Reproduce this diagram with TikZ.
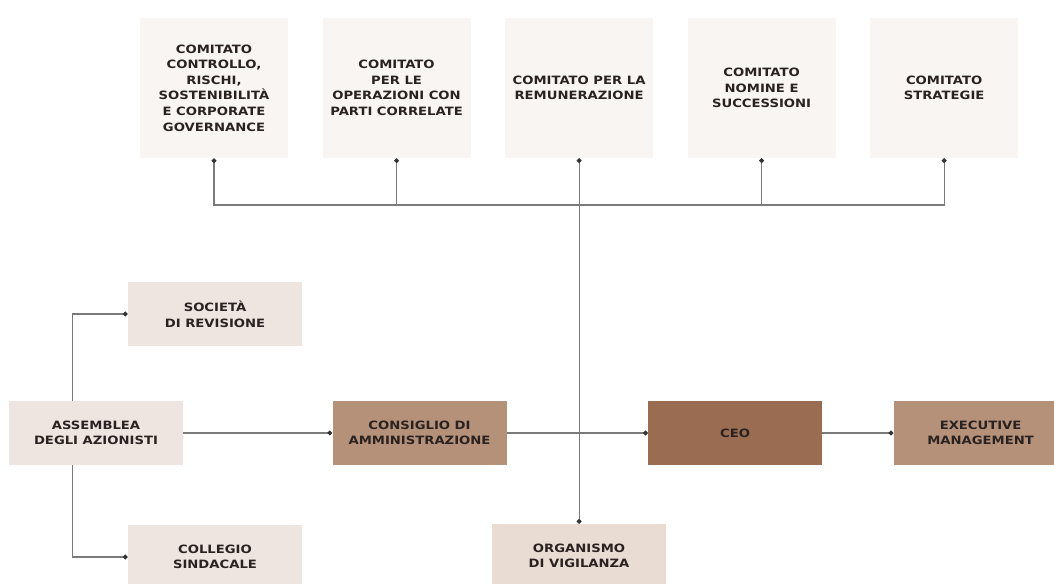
\documentclass[tikz,border=0pt]{standalone}
\usepackage{fontspec}
\setmainfont{DejaVu Sans}[FakeStretch=1.15]
\usetikzlibrary{positioning,arrows.meta}

\definecolor{topfill}{HTML}{F8F5F2}
\definecolor{palefill}{HTML}{EEE5E1}
\definecolor{odvfill}{HTML}{E9DCD3}
\definecolor{tanfill}{HTML}{B5917A}
\definecolor{ceofill}{HTML}{9A6D52}
\definecolor{linegray}{HTML}{7A7A7A}
\definecolor{inkcol}{HTML}{2A2220}

\tikzset{
  boxtext/.style={align=center,inner sep=0pt,text=inkcol,
    font=\fontsize{8.6}{11.7}\selectfont\bfseries},
  comitato/.style={boxtext,fill=topfill,minimum width=111pt,minimum height=105pt},
  organo/.style={boxtext,minimum width=130.5pt,minimum height=48pt},
  link/.style={draw=linegray,line width=0.8pt},
  dotted end/.style={link,-{Circle[length=3.6pt,fill=black!80,color=black!80]}},
  dotted both/.style={link,{Circle[length=3.6pt,fill=black!80,color=black!80]}-{Circle[length=3.6pt,fill=black!80,color=black!80]}}
}

\begin{document}
\begin{tikzpicture}[x=0.75pt,y=-0.75pt]
\useasboundingbox (0,0) rectangle (1054,584);
\clip (0,0) rectangle (1054,584);

% comitati
\node[comitato] (c1) at (214,88) {COMITATO\\CONTROLLO,\\RISCHI,\\SOSTENIBILITÀ\\E CORPORATE\\GOVERNANCE};
\node[comitato,right=25.5pt of c1] (c2) {COMITATO\\PER LE\\OPERAZIONI CON\\PARTI CORRELATE};
\node[comitato,right=25.5pt of c2] (c3) {COMITATO PER LA\\REMUNERAZIONE};
\node[comitato,right=25.5pt of c3] (c4) {COMITATO\\NOMINE E\\SUCCESSIONI};
\node[comitato,right=25.5pt of c4] (c5) {COMITATO\\STRATEGIE};

% organi
\node[organo,fill=palefill] (as) at (96,433) {ASSEMBLEA\\DEGLI AZIONISTI};
\node[organo,fill=palefill] (soc) at (215,314) {SOCIETÀ\\DI REVISIONE};
\node[organo,fill=palefill] (col) at (215,557) {COLLEGIO\\SINDACALE};
\node[organo,fill=tanfill,right=111.75pt of as] (cda) {CONSIGLIO DI\\AMMINISTRAZIONE};
\node[organo,fill=ceofill,right=105.75pt of cda] (ceo) {CEO};
\node[organo,fill=tanfill,right=53.25pt of ceo] (exe) {EXECUTIVE\\MANAGEMENT};
\node[organo,fill=odvfill] (odv) at (c3 |- 0,556) {ORGANISMO\\DI VIGILANZA};

\coordinate (bus) at (0,205);

% connettori
\draw[dotted both] (c1.south) |- (bus -| c3.south) -| (c5.south);
\draw[dotted end] (c2.south |- bus) -- (c2.south);
\draw[dotted end] (c4.south |- bus) -- (c4.south);
\draw[dotted both] (c3.south) -- (odv.north);

\draw[dotted end] ([xshift=-13pt*4/3]as.north) |- (soc.west);
\draw[dotted end] ([xshift=-13pt*4/3]as.south) |- (col.west);
\draw[dotted end] (as.east) -- (cda.west);
\draw[dotted end] (cda.east) -- (ceo.west);
\draw[dotted end] (ceo.east) -- (exe.west);
\end{tikzpicture}
\end{document}
